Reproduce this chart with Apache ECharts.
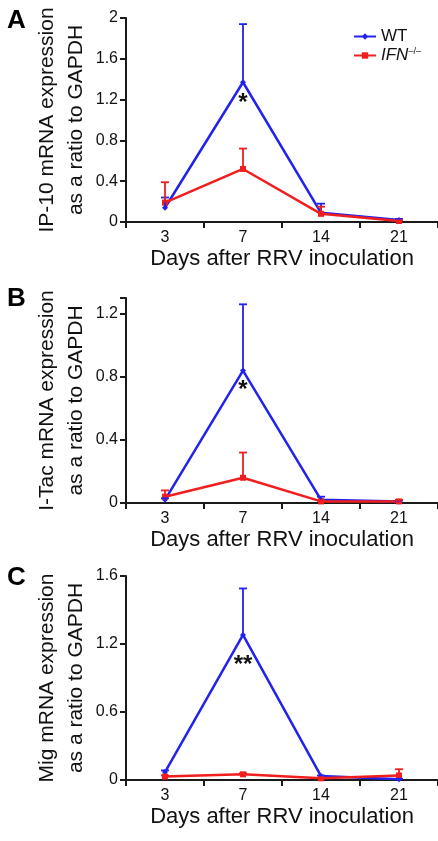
<!DOCTYPE html>
<html>
<head>
<meta charset="utf-8">
<script src="https://cdn.jsdelivr.net/npm/echarts@6/dist/echarts.min.js"></script>
<style>
html,body{margin:0;padding:0;background:#fff;}
#chart{width:438px;height:841px;}
</style>
</head>
<body>
<div id="chart"></div>
<script>
// ---- data ----
const days = ['3', '7', '14', '21'];

// Panel A: IP-10
const wtA = [0.14, 1.37, 0.09, 0.02];
const wtAsd = [0.10, 0.57, 0.09, 0.01];
const ifnA = [0.19, 0.52, 0.08, 0.01];
const ifnAsd = [0.20, 0.20, 0.07, 0.005];

// Panel B: I-Tac
const wtB = [0.02, 0.84, 0.02, 0.01];
const wtBsd = [0.01, 0.42, 0.02, 0.005];
const ifnB = [0.04, 0.16, 0.01, 0.01];
const ifnBsd = [0.04, 0.16, 0.005, 0.01];

// Panel C: Mig
const wtC = [0.07, 1.28, 0.035, 0.006];
const wtCsd = [0.015, 0.41, 0.005, 0.005];
const ifnC = [0.03, 0.05, 0.015, 0.04];
const ifnCsd = [0.01, 0.01, 0.005, 0.055];

// tick values and labels
const yTicksA = [0, 0.4, 0.8, 1.2, 1.6, 2];
const yLabelsA = ['0', '0.4', '0.8', '1.2', '1.6', '2'];
const yTicksB = [0, 0.4, 0.8, 1.2];
const yLabelsB = ['0', '0.4', '0.8', '1.2'];
const yTicksC = [0, 0.6, 1.2, 1.8];
const yLabelsC = ['0', '0.6', '1.2', '1.6'];

const yNames = ['IP-10 mRNA expression\nas a ratio to GAPDH',
                'I-Tac mRNA expression\nas a ratio to GAPDH',
                'Mig mRNA expression\nas a ratio to GAPDH'];
const xName = 'Days after RRV inoculation';
const panelLetters = ['A', 'B', 'C'];
const stars = ['*', '*', '**'];
const seriesNames = ['WT', 'IFN'];

// ---- styling ----
const FONT = "'Liberation Sans', Arial, Helvetica, sans-serif";
const BLUE = '#2222ee';
const RED = '#f01e1e';
const AXIS = '#1a1a1a';

const grids = [
  {left: 126, top: 18, width: 314, height: 204},
  {left: 126, top: 298, width: 314, height: 205},
  {left: 126, top: 576, width: 314, height: 204}
];
const yMax = [2, 1.3, 1.8];
const yTicks = [yTicksA, yTicksB, yTicksC];
const yLabels = [yLabelsA, yLabelsB, yLabelsC];
const yTickMarks = [yTicksA, yTicksB.concat([1.3]), yTicksC];
const starOffsets = [21, 20, 30];

function labelFor(ticks, labels) {
  return function (v) {
    for (let i = 0; i < ticks.length; i++) {
      if (Math.abs(ticks[i] - v) < 1e-6) return labels[i];
    }
    return '';
  };
}

const xAxes = grids.map((g, i) => ({
  type: 'category',
  gridIndex: i,
  data: days,
  boundaryGap: true,
  name: xName,
  nameLocation: 'middle',
  nameGap: 26,
  nameMoveOverlap: false,
  nameTextStyle: {fontSize: 22, color: '#111', fontFamily: FONT},
  axisLine: {lineStyle: {color: AXIS, width: 2}},
  axisTick: {show: true, length: 6, lineStyle: {color: AXIS, width: 2}},
  axisLabel: {fontSize: 16, color: '#111', fontFamily: FONT, margin: 8},
  splitLine: {show: false}
}));

const yAxes = grids.map((g, i) => ({
  type: 'value',
  gridIndex: i,
  min: 0,
  max: yMax[i],
  name: yNames[i],
  nameLocation: 'middle',
  nameRotate: 90,
  nameGap: 35,
  nameMoveOverlap: false,
  nameTextStyle: {fontSize: 21, lineHeight: 29, color: '#111', fontFamily: FONT},
  axisLine: {show: true, lineStyle: {color: AXIS, width: 2}},
  axisTick: {show: true, length: 6, lineStyle: {color: AXIS, width: 2}, customValues: yTickMarks[i]},
  axisLabel: {fontSize: 16, color: '#111', fontFamily: FONT, margin: 8,
              customValues: yTicks[i], formatter: labelFor(yTicks[i], yLabels[i])},
  splitLine: {show: false}
}));

const panels = [
  {wt: wtA, wtsd: wtAsd, ifn: ifnA, ifnsd: ifnAsd},
  {wt: wtB, wtsd: wtBsd, ifn: ifnB, ifnsd: ifnBsd},
  {wt: wtC, wtsd: wtCsd, ifn: ifnC, ifnsd: ifnCsd}
];

function errRender(color) {
  return function (params, api) {
    const x = api.value(0), y = api.value(1), e = api.value(2);
    const p0 = api.coord([x, y]);
    const p1 = api.coord([x, y + e]);
    const st = {stroke: color, lineWidth: 1.8};
    return {
      type: 'group',
      children: [
        {type: 'line', shape: {x1: p0[0], y1: p0[1], x2: p1[0], y2: p1[1]}, style: st},
        {type: 'line', shape: {x1: p1[0] - 4, y1: p1[1], x2: p1[0] + 4, y2: p1[1]}, style: st}
      ]
    };
  };
}

const series = [];
panels.forEach((p, i) => {
  series.push({
    name: seriesNames[0], type: 'line', xAxisIndex: i, yAxisIndex: i,
    data: p.wt, color: BLUE, symbol: 'diamond', symbolSize: 6,
    lineStyle: {width: 2.5, color: BLUE}, itemStyle: {color: BLUE},
    z: 3, animation: false,
    markPoint: {
      symbol: 'rect', symbolSize: 1, itemStyle: {color: 'rgba(0,0,0,0)'},
      label: {show: true, formatter: stars[i], color: '#111', fontSize: 24, fontWeight: 'bold',
              fontFamily: FONT, position: 'inside', offset: [0, starOffsets[i]]},
      data: [{coord: [1, p.wt[1]]}]
    }
  });
  series.push({
    name: seriesNames[1], type: 'line', xAxisIndex: i, yAxisIndex: i,
    data: p.ifn, color: RED, symbol: 'rect', symbolSize: 6,
    lineStyle: {width: 2.5, color: RED}, itemStyle: {color: RED},
    z: 4, animation: false
  });
  series.push({
    type: 'custom', xAxisIndex: i, yAxisIndex: i, z: 5, animation: false,
    renderItem: errRender(BLUE),
    data: p.wt.map((v, k) => [k, v, p.wtsd[k]])
  });
  series.push({
    type: 'custom', xAxisIndex: i, yAxisIndex: i, z: 5, animation: false,
    renderItem: errRender(RED),
    data: p.ifn.map((v, k) => [k, v, p.ifnsd[k]])
  });
});

const chart = echarts.init(document.getElementById('chart'), null, {renderer: 'canvas'});
chart.setOption({
  backgroundColor: '#fff',
  animation: false,
  grid: grids,
  xAxis: xAxes,
  yAxis: yAxes,
  legend: {
    data: seriesNames,
    orient: 'vertical',
    left: 353, top: 28,
    itemWidth: 22, itemHeight: 8, itemGap: 2,
    padding: 0,
    selectedMode: false,
    textStyle: {fontSize: 17, lineHeight: 17, color: '#111', fontFamily: FONT,
      rich: {
        i: {fontSize: 17, lineHeight: 17, fontStyle: 'italic', fontFamily: FONT, color: '#111'},
        s: {fontSize: 9, fontFamily: FONT, color: '#111', verticalAlign: 'top', lineHeight: 9}
      }},
    formatter: function (n) { return n === 'IFN' ? '{i|IFN}{s|\u2013/\u2013}' : n; }
  },
  graphic: panelLetters.map((t, i) => ({
    type: 'text', left: 7, top: [8, 286, 565][i],
    style: {text: t, fontSize: 26, fontWeight: 900, fontFamily: FONT, fill: '#000'}
  })),
  series: series
});
</script>
</body>
</html>
